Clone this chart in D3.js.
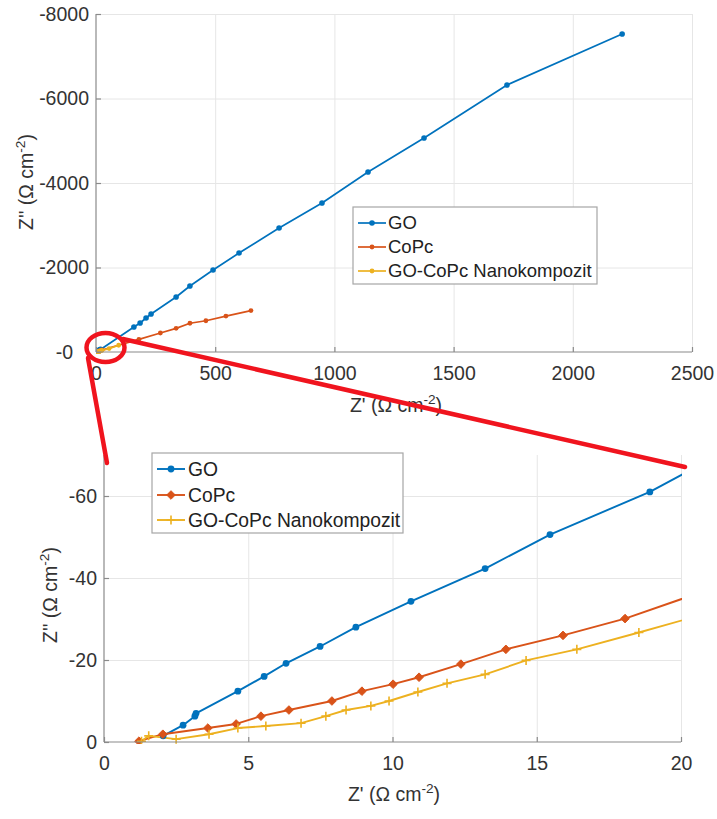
<!DOCTYPE html>
<html>
<head>
<meta charset="utf-8">
<script src="https://cdn.jsdelivr.net/npm/d3@7"></script>
<style>
  html, body { margin: 0; padding: 0; background: #fff; }
  svg { display: block; font-family: "Liberation Sans", Arial, Helvetica, sans-serif; }
</style>
</head>
<body>
<svg id="chart" width="717" height="819"></svg>
<script>
// ---------------- DATA ----------------
const seriesNames = ["GO", "CoPc", "GO-CoPc Nanokompozit"];
const seriesColors = ["#0072BD", "#D95319", "#EDB120"];

const goX = [2.05, 2.74, 3.15, 3.19, 4.64, 5.55, 6.31, 7.49, 8.73, 10.64, 13.21, 15.46, 18.92,
             159, 185, 210, 231, 336, 394, 491, 600, 768, 948, 1141, 1376, 1724, 2207];
const goY = [-1.5, -4.1, -6.3, -7.0, -12.4, -16.0, -19.2, -23.3, -28.0, -34.3, -42.3, -50.6, -61.0,
             -592, -686, -805, -899, -1302, -1562, -1941, -2343, -2935, -3527, -4260, -5065, -6320, -7527];

const copcX = [1.21, 2.04, 3.60, 4.58, 5.44, 6.41, 7.90, 8.94, 10.02, 10.92, 12.37, 13.93, 15.91, 18.06, 25,
               180, 270, 336, 394, 461, 545, 650];
const copcY = [-0.2, -1.9, -3.4, -4.4, -6.3, -7.8, -10.0, -12.4, -14.1, -15.8, -19.0, -22.6, -26.0, -30.1, -47,
               -300, -450, -560, -680, -740, -850, -980];

const compX = [1.3, 1.55, 2.50, 3.64, 4.64, 5.61, 6.83, 7.69, 8.39, 9.25, 9.88, 10.88, 11.89, 13.21, 14.63, 16.39, 18.54, 25,
               55, 95];
const compY = [-0.2, -1.5, -0.7, -1.9, -3.4, -3.9, -4.6, -6.3, -7.8, -8.8, -10.0, -12.2, -14.3, -16.5, -19.9, -22.6, -26.7, -39.5,
               -80, -160];

const topXTicks = [0, 500, 1000, 1500, 2000, 2500];
const topYTicks = [0, -2000, -4000, -6000, -8000];
const topYTickLabels = ["-0", "-2000", "-4000", "-6000", "-8000"];
const botXTicks = [0, 5, 10, 15, 20];
const botYTicks = [0, -20, -40, -60];
const botYTickLabels = ["0", "-20", "-40", "-60"];

// ---------------- SETUP ----------------
const svg = d3.select("#chart");
const series = [
  {name: seriesNames[0], color: seriesColors[0], pts: goX.map((x, i) => [x, goY[i]])},
  {name: seriesNames[1], color: seriesColors[1], pts: copcX.map((x, i) => [x, copcY[i]])},
  {name: seriesNames[2], color: seriesColors[2], pts: compX.map((x, i) => [x, compY[i]])}
];

const AXIS_COLOR = "#8a8a8a";
const GRID_COLOR = "#e6e6e6";
const TEXT_COLOR = "#333";
const TICK_FONT = 19.5;
const LABEL_FONT = 19.5;

function markerPath(kind, s) {
  if (kind === "diamond") return `M0,${-s}L${s},0L0,${s}L${-s},0Z`;
  if (kind === "plus") return `M${-s},0H${s}M0,${-s}V${s}`;
  return null;
}

function drawMarker(g, kind, x, y, color, size) {
  if (kind === "dot") {
    g.append("circle").attr("cx", x).attr("cy", y).attr("r", size).attr("fill", color);
  } else if (kind === "diamond") {
    g.append("path").attr("d", markerPath("diamond", size))
      .attr("transform", `translate(${x},${y})`).attr("fill", color).attr("stroke", color).attr("stroke-width", 1);
  } else {
    g.append("path").attr("d", markerPath("plus", size))
      .attr("transform", `translate(${x},${y})`).attr("fill", "none").attr("stroke", color).attr("stroke-width", 1.6);
  }
}

function addLabel(g, x, y, main, rotate) {
  const t = g.append("text")
    .attr("x", x).attr("y", y)
    .attr("text-anchor", "middle")
    .attr("font-size", LABEL_FONT)
    .attr("fill", TEXT_COLOR);
  if (rotate) t.attr("transform", `rotate(-90,${x},${y})`);
  t.append("tspan").text(main);
  t.append("tspan").attr("font-size", LABEL_FONT * 0.7).attr("dy", -8).text("-2");
  t.append("tspan").attr("dy", 8).text(")");
  return t;
}

function drawPanel(cfg) {
  const g = svg.append("g");
  const x = d3.scaleLinear().domain(cfg.xDomain).range([cfg.left, cfg.right]);
  const y = d3.scaleLinear().domain(cfg.yDomain).range([cfg.bottom, cfg.top]);
  const w = cfg.right - cfg.left, h = cfg.bottom - cfg.top;

  // grid
  g.append("g").attr("transform", `translate(0,${cfg.bottom})`)
    .call(d3.axisBottom(x).tickValues(cfg.xTicks.filter(v => v !== cfg.xDomain[0])).tickSize(-h).tickFormat(""))
    .call(a => a.select(".domain").remove())
    .call(a => a.selectAll("line").attr("stroke", GRID_COLOR).attr("stroke-width", 1));
  g.append("g").attr("transform", `translate(${cfg.left},0)`)
    .call(d3.axisLeft(y).tickValues(cfg.yTicks.filter(v => v !== 0)).tickSize(-w).tickFormat(""))
    .call(a => a.select(".domain").remove())
    .call(a => a.selectAll("line").attr("stroke", GRID_COLOR).attr("stroke-width", 1));

  // data
  const clipId = "clip" + cfg.id;
  svg.append("clipPath").attr("id", clipId).append("rect")
    .attr("x", cfg.left).attr("y", cfg.top - 2).attr("width", w + 1).attr("height", h + 4);
  const dg = g.append("g").attr("clip-path", `url(#${clipId})`);
  const line = d3.line().x(d => x(d[0])).y(d => y(d[1]));
  series.forEach((s, i) => {
    dg.append("path").attr("d", line(s.pts)).attr("fill", "none")
      .attr("stroke", s.color).attr("stroke-width", cfg.lineWidth).attr("stroke-linejoin", "round");
  });
  series.forEach((s, i) => {
    const mg = dg.append("g");
    s.pts.forEach(p => {
      if (p[0] <= cfg.xDomain[1] && p[1] >= cfg.yDomain[1]) {
        drawMarker(mg, cfg.markers[i], x(p[0]), y(p[1]), s.color, cfg.markerSizes[i]);
      }
    });
  });

  // axes
  const xa = g.append("g").attr("transform", `translate(0,${cfg.bottom})`)
    .call(d3.axisBottom(x).tickValues(cfg.xTicks).tickSizeInner(-5).tickSizeOuter(0).tickPadding(14).tickFormat(d3.format("d")));
  const ya = g.append("g").attr("transform", `translate(${cfg.left},0)`)
    .call(d3.axisLeft(y).tickValues(cfg.yTicks).tickSizeInner(-5).tickSizeOuter(0).tickPadding(7)
      .tickFormat((d, i) => cfg.yTickLabels[i]));
  [xa, ya].forEach(a => {
    a.select(".domain").attr("stroke", AXIS_COLOR).attr("stroke-width", 1.2);
    a.selectAll(".tick line").attr("stroke", AXIS_COLOR).attr("stroke-width", 1.2);
    a.selectAll("text").attr("font-size", TICK_FONT).attr("fill", TEXT_COLOR)
      .attr("font-family", "Liberation Sans, Arial, sans-serif");
  });
  ya.select(".domain").attr("d", `M0,${cfg.bottom}V${cfg.top}`);
  xa.select(".domain").attr("d", `M0,0H${cfg.right - cfg.left}`).attr("transform", `translate(${cfg.left},0)`);
  if (cfg.zeroLabelShift) {
    ya.selectAll(".tick").filter(d => d === 0).select("text").attr("x", -7 - cfg.zeroLabelShift);
  }

  // labels
  addLabel(g, cfg.xLabelPos[0], cfg.xLabelPos[1], "Z' (Ω cm", false);
  addLabel(g, cfg.yLabelPos[0], cfg.yLabelPos[1], "Z'' (Ω cm", true);

  // legend
  const L = cfg.legend;
  const lg = g.append("g");
  lg.append("rect").attr("x", L.x).attr("y", L.y).attr("width", L.w).attr("height", L.h)
    .attr("fill", "#fff").attr("stroke", "#a6a6a6").attr("stroke-width", 1.2);
  series.forEach((s, i) => {
    const cy = L.rows[i];
    lg.append("line").attr("x1", L.lx1).attr("x2", L.lx2).attr("y1", cy).attr("y2", cy)
      .attr("stroke", s.color).attr("stroke-width", cfg.lineWidth);
    drawMarker(lg, cfg.markers[i], (L.lx1 + L.lx2) / 2, cy, s.color, cfg.markerSizes[i]);
    lg.append("text").attr("x", L.tx).attr("y", cy).attr("dy", "0.35em")
      .attr("font-size", L.font).attr("fill", "#222").text(s.name);
  });
}

// top panel
drawPanel({
  id: "top",
  xDomain: [0, 2500], yDomain: [0, -8000],
  left: 96, right: 692, top: 14, bottom: 352,
  xTicks: topXTicks, yTicks: topYTicks, yTickLabels: topYTickLabels,
  markers: ["dot", "dot", "dot"], markerSizes: [2.8, 2.4, 2.4],
  lineWidth: 1.7,
  zeroLabelShift: 16,
  xLabelPos: [396, 412], yLabelPos: [33, 182],
  legend: {x: 353, y: 207, w: 244, h: 77, rows: [223, 247, 271], lx1: 358, lx2: 386, tx: 388, font: 18.5}
});

// bottom panel
drawPanel({
  id: "bot",
  xDomain: [0, 20], yDomain: [0, -70],
  left: 104, right: 681, top: 455, bottom: 742,
  xTicks: botXTicks, yTicks: botYTicks, yTickLabels: botYTickLabels,
  markers: ["dot", "diamond", "plus"], markerSizes: [3.4, 4.3, 4.5],
  lineWidth: 1.9,
  zeroLabelShift: 0,
  xLabelPos: [394, 801], yLabelPos: [57, 595],
  legend: {x: 152, y: 453, w: 251, h: 80, rows: [469, 495, 520], lx1: 157, lx2: 185, tx: 188, font: 19.3}
});

// red zoom annotation (on top of everything)
const red = svg.append("g").attr("stroke", "#f0141e").attr("stroke-width", 4.5).attr("fill", "none").attr("stroke-linecap", "round");
red.append("ellipse").attr("cx", 105.5).attr("cy", 347.5).attr("rx", 19).attr("ry", 14.5);
red.append("line").attr("x1", 88).attr("y1", 358).attr("x2", 107).attr("y2", 463);
red.append("line").attr("x1", 123).attr("y1", 339).attr("x2", 685).attr("y2", 467);
</script>
</body>
</html>
